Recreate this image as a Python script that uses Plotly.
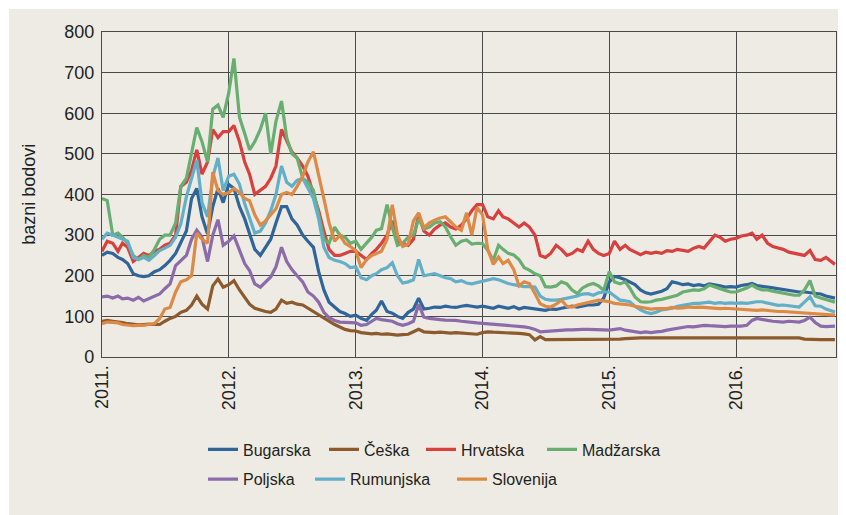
import plotly.graph_objects as go

# half-monthly observation dates (1st and 16th), Jan 2011 - Sep 2016, plus last day shown
dates = [f"{y}-{m:02d}-{d:02d}" for y in range(2011, 2017) for m in range(1, 13) for d in (1, 16)
         if (y, m) <= (2016, 9)] + ["2016-10-12"]

series_names = ["Bugarska", "Češka", "Hrvatska", "Madžarska", "Poljska", "Rumunjska", "Slovenija"]
series_colors = ["#2F6598", "#8C5A2C", "#D8403E", "#68AE70", "#8B6BA9", "#63AFC7", "#DC8A45"]

bugarska = [
    250, 258, 255, 245, 240, 230, 205, 200, 198, 200, 210, 215, 225, 238, 255, 280, 310, 390, 415, 345, 303, 370, 415, 380,
    425, 415, 370, 340, 305, 265, 250, 270, 290, 330, 370, 370, 340, 325, 300, 285, 270, 210, 165, 135, 123, 112, 107, 100,
    103, 95, 90, 105, 115, 138, 112, 108, 100, 95, 110, 118, 145, 118, 120, 123, 122, 125, 123, 122, 125, 127, 125, 123,
    125, 122, 120, 125, 122, 120, 124, 118, 122, 120, 118, 116, 115, 118, 117, 120, 122, 125, 123, 126, 128, 128, 130, 145,
    185, 198, 195, 190, 185, 178, 165, 158, 155, 158, 162, 168, 185, 182, 178, 180, 176, 178, 175, 180, 178, 175, 172, 173,
    172, 176, 178, 181, 176, 175, 172, 170, 168, 165, 164, 162, 160, 160, 158, 156, 155, 150, 145,
]
ceska = [
    88, 90, 88, 87, 85, 82, 80, 79, 80, 81, 80, 80, 88, 95, 100, 110, 115, 128, 150, 130, 118, 175, 192, 172,
    178, 188, 165, 145, 130, 120, 115, 112, 110, 118, 140, 132, 135, 130, 128, 120, 112, 105, 95, 87, 80, 74, 68, 65,
    64, 60, 58, 57, 58, 56, 57, 55, 54, 55, 56, 62, 68, 62, 61, 60, 61, 60, 59, 60, 59, 58, 57, 56,
    60, 62, 61, 60, 60, 59, 58, 58, 57, 55, 42, 50, 43, 43, 43, 43, 43, 43, 43, 43, 43, 43, 43, 43,
    43, 43, 44, 45, 46, 47, 47, 47, 47, 47, 47, 47, 47, 47, 47, 47, 47, 47, 47, 47, 47, 47, 47, 47,
    47, 47, 47, 47, 47, 47, 47, 47, 47, 47, 47, 47, 47, 44, 43, 43, 43, 43, 43,
]
hrvatska = [
    260, 285, 280, 260, 280, 270, 235, 245, 255, 250, 260, 265, 275, 280, 300, 420, 430, 460, 510, 450, 480, 560, 540, 555,
    555, 570, 530, 480, 450, 400, 410, 420, 440, 470, 560, 530, 505, 490, 470, 445, 400, 360, 310, 265, 250, 250, 255, 260,
    260, 250, 240, 255, 265, 280, 300, 335, 285, 280, 275, 290, 350, 310, 300, 315, 325, 330, 320, 315, 325, 340, 360, 375,
    375, 345, 340, 360, 345, 340, 330, 320, 330, 320, 300, 250, 245, 255, 275, 265, 250, 255, 265, 260, 285, 265, 255, 250,
    255, 285, 265, 275, 265, 258, 252, 258, 255, 258, 255, 262, 260, 265, 262, 260, 268, 272, 268, 285, 300, 295, 285, 290,
    292, 298, 300, 305, 290, 300, 280, 272, 268, 265, 258, 255, 252, 250, 262, 240, 238, 245, 228,
]
madzarska = [
    390, 385, 300, 305, 295, 280, 250, 240, 250, 245, 265, 290, 300, 300, 330, 420, 440, 500, 565, 530, 480, 610, 620, 590,
    650, 735, 590, 550, 510, 530, 560, 600, 500, 580, 630, 540, 500, 490, 440, 430, 410, 350, 290, 280, 320, 300, 295, 280,
    285, 265, 280, 295, 312, 316, 375, 320, 275, 280, 295, 300, 340, 315, 320, 330, 333, 320, 296, 275, 285, 288, 278, 280,
    279, 263, 238, 275, 265, 255, 251, 240, 220, 214, 205, 200, 173, 172, 175, 185, 180, 165, 156, 170, 177, 181, 175, 164,
    210, 185, 180, 185, 170, 148, 136, 135, 136, 140, 142, 145, 148, 152, 160, 162, 165, 164, 168, 177, 172, 168, 164, 160,
    160, 165, 170, 177, 170, 165, 165, 162, 160, 158, 155, 152, 152, 165, 188, 150, 145, 142, 135,
]
poljska = [
    148, 150, 145, 150, 143, 145, 140, 147, 138, 143, 150, 155, 168, 180, 225, 238, 250, 290, 312, 295, 235, 300, 338, 275,
    285, 298, 262, 230, 213, 180, 172, 185, 197, 222, 270, 235, 215, 200, 185, 160, 150, 135, 110, 97, 90, 86, 85, 84,
    84, 78, 80, 88, 95, 92, 90, 88, 82, 78, 82, 88, 130, 98, 95, 93, 92, 91, 91, 90, 88, 86, 85, 84,
    83, 82, 80, 80, 79, 78, 76, 75, 74, 72, 68, 62, 63, 64, 66, 66, 67, 67, 68, 68, 68, 67, 68, 67,
    66, 68, 70, 66, 64, 62, 60, 62, 60, 62, 63, 66, 68, 70, 74, 75, 74, 76, 78, 77, 76, 76, 75, 76,
    75, 76, 78, 90, 95, 92, 90, 88, 87, 86, 88, 87, 86, 90, 98, 85, 76, 75, 76,
]
rumunjska = [
    290, 305, 300, 295, 290, 285, 245, 240, 245, 238, 250, 262, 268, 275, 295, 328, 394, 440, 485, 380, 345, 443, 490, 410,
    445, 450, 425, 377, 340, 305, 310, 330, 360, 400, 470, 430, 420, 435, 440, 415, 390, 340, 270, 245, 238, 235, 230, 220,
    222, 195, 190, 200, 205, 215, 220, 232, 200, 182, 185, 190, 240, 200, 202, 205, 200, 195, 193, 185, 188, 182, 180, 183,
    185, 190, 193, 190, 185, 181, 178, 175, 173, 173, 172, 150, 142, 140, 140, 142, 145, 148, 150, 155, 156, 152, 158, 160,
    160, 150, 140, 138, 136, 125, 116, 110, 107, 110, 116, 118, 120, 125, 128, 130, 132, 132, 133, 135, 132, 134, 132, 133,
    132, 133, 132, 134, 136, 136, 133, 130, 127, 128, 126, 124, 123, 135, 148, 126, 125, 118, 111,
]
slovenija = [
    82, 86, 85, 84, 80, 78, 77, 78, 78, 80, 82, 95, 118, 122, 160, 185, 190, 200, 305, 290, 280, 455, 410, 400,
    405, 415, 405, 390, 385, 350, 325, 335, 350, 365, 400, 405, 400, 420, 445, 480, 505, 450, 390, 330, 285, 300, 280, 272,
    262, 220, 240, 250, 255, 260, 290, 375, 300, 272, 278, 335, 355, 318, 330, 337, 342, 345, 333, 320, 312, 355, 300, 368,
    350, 265, 228, 246, 230, 238, 215, 175, 185, 181, 156, 131, 125, 123, 130, 140, 125, 123, 128, 131, 135, 138, 140, 138,
    136, 132, 131, 130, 128, 125, 122, 119, 118, 119, 120, 119, 122, 120, 121, 123, 122, 123, 122, 121, 120, 119, 120, 119,
    119, 118, 117, 116, 115, 116, 114, 113, 112, 112, 111, 111, 110, 110, 109, 108, 107, 106, 103,
]

year_ticks = ["2011-01-01", "2012-01-01", "2013-01-01", "2014-01-01", "2015-01-01", "2016-01-01"]
year_labels = ["2011.", "2012.", "2013.", "2014.", "2015.", "2016."]
y_label = "bazni bodovi"

values = [bugarska, ceska, hrvatska, madzarska, poljska, rumunjska, slovenija]
legend_rows = ["legend", "legend", "legend", "legend", "legend2", "legend2", "legend2"]
legend_widths = [76, 52, 76, 90, 62, 97, 80]

FONT = "Liberation Sans, Arial, sans-serif"
TEXT = "#231F20"
GRID = "#4A4A4A"
BG = "#EEEBE5"

fig = go.Figure()
for name, col, vals, lg, lw in zip(series_names, series_colors, values, legend_rows, legend_widths):
    fig.add_trace(go.Scatter(
        x=dates, y=vals, name=name, mode="lines",
        line=dict(color=col, width=3.2),
        legend=lg, legendwidth=lw,
    ))

legend_common = dict(
    orientation="h", xanchor="left", yanchor="top", x=0.1376,
    bgcolor="rgba(0,0,0,0)", borderwidth=0,
    font=dict(family=FONT, size=16, color=TEXT),
    itemwidth=30, tracegroupgap=0,
)

fig.update_layout(
    width=846, height=515,
    margin=dict(l=94, r=18, t=24, b=166, autoexpand=False),
    paper_bgcolor="white", plot_bgcolor=BG,
    showlegend=True,
    legend=dict(legend_common, y=-0.232),
    legend2=dict(legend_common, y=-0.324),
    shapes=[dict(type="rect", xref="paper", yref="paper", layer="below",
                 x0=-0.1267, x1=1.05, y0=-0.55, y1=1.0708,
                 fillcolor=BG, line=dict(width=0))],
    annotations=[dict(text=y_label, xref="paper", yref="paper", x=-0.1005, y=0.5,
                      xanchor="center", yanchor="middle", textangle=-90, showarrow=False,
                      font=dict(family=FONT, size=18, color=TEXT))],
    xaxis=dict(
        type="date", range=["2011-01-01", "2016-10-15"],
        tickvals=year_ticks, ticktext=year_labels, tickangle=-90,
        tickfont=dict(family=FONT, size=18, color=TEXT),
        showgrid=True, gridcolor=GRID, gridwidth=1,
        showline=True, linecolor=GRID, linewidth=1.2, mirror=True,
        ticks="", zeroline=False,
    ),
    yaxis=dict(
        range=[0, 800], dtick=100, tick0=0,
        tickfont=dict(family=FONT, size=18, color=TEXT),
        showgrid=True, gridcolor=GRID, gridwidth=1,
        showline=True, linecolor=GRID, linewidth=1.2, mirror=True,
        ticks="", zeroline=False, ticklabelstandoff=3,
    ),
)

fig.write_html("out.html")
